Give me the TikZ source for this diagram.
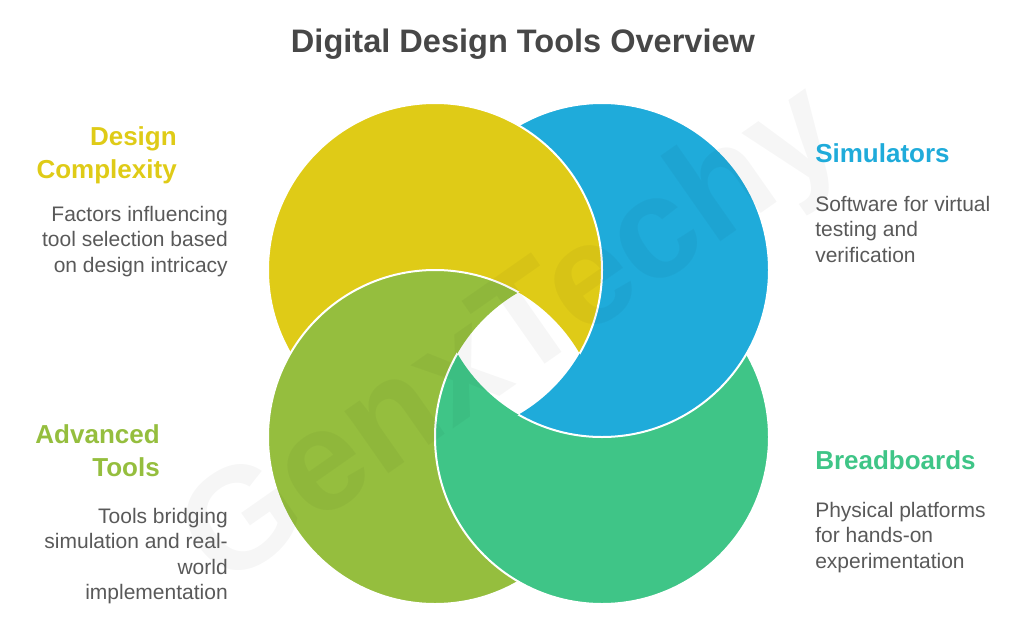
\documentclass[tikz,border=0pt]{standalone}
\usepackage{fontspec}
\setmainfont{Liberation Sans}
\usepackage{xcolor}
\usetikzlibrary{positioning}
\definecolor{ringyellow}{HTML}{DFCB17}
\definecolor{ringblue}{HTML}{1FABDA}
\definecolor{ringteal}{HTML}{3FC587}
\definecolor{ringgreen}{HTML}{95BE3E}
\definecolor{titlegray}{HTML}{474747}
\definecolor{descgray}{HTML}{595959}

\begin{document}
\begin{tikzpicture}[x=0.75pt,y=-0.75pt,
  ring/.style={draw=white,line width=1.5pt},
  heading/.style={inner sep=0pt,font=\fontsize{19.5}{25}\selectfont\bfseries},
  desc/.style={inner sep=0pt,text=descgray,font=\fontsize{15.75}{19.1}\selectfont}]
\useasboundingbox (0,0) rectangle (1024,632);
% Radius of the four rings
  \def\R{167}
  \coordinate (yc) at (435,270);
  \coordinate (bc) at (602,270);
  \coordinate (tc) at (602,437);
  \coordinate (gc) at (435,437);
% each ring is hidden by the ring before it
  \foreach \c/\u/\col in {yc/gc/ringyellow,bc/yc/ringblue,tc/bc/ringteal,gc/tc/ringgreen} {
    \begin{scope}[even odd rule]
      \clip (0,0) rectangle (1024,632) (\u) circle[radius=\R];
      \fill[\col] (\c) circle[radius=\R];
    \end{scope}
  }
  \foreach \c/\u in {yc/gc,bc/yc,tc/bc,gc/tc} {
    \begin{scope}[even odd rule]
      \clip (0,0) rectangle (1024,632) (\u) circle[radius=\R];
      \draw[ring] (\c) circle[radius=\R];
    \end{scope}
  }
  \node[rotate=35,opacity=0.035,inner sep=0pt,font=\fontsize{108}{108}\selectfont\bfseries]
    (mark) at (515,340) {GenxTechy};

  \node[anchor=base,text=titlegray,font=\fontsize{24.4}{30}\selectfont\bfseries]
    (title) at (523,52) {Digital Design Tools Overview};

  \node[heading,text=ringyellow,align=right,anchor=north east] (dchead) at (177,126) {Design\\Complexity};
  \node[desc,align=right,anchor=north east] (dctext) at (228,206)
    {Factors influencing\\tool selection based\\on design intricacy};

  \node[heading,text=ringblue,align=left,anchor=north west] (simhead) at (815,143) {Simulators};
  \node[desc,align=left,anchor=north west] (simtext) at (815,196)
    {Software for virtual\\testing and\\verification};

  \node[heading,text=ringgreen,align=right,anchor=north east] (advhead) at (160,424) {Advanced\\Tools};
  \node[desc,align=right,anchor=north east] (advtext) at (228,508)
    {Tools bridging\\simulation and real-\\world\\implementation};

  \node[heading,text=ringteal,align=left,anchor=north west] (bbhead) at (815,450) {Breadboards};
  \node[desc,align=left,anchor=north west] (bbtext) at (815,502)
    {Physical platforms\\for hands-on\\experimentation};
\end{tikzpicture}
\end{document}
